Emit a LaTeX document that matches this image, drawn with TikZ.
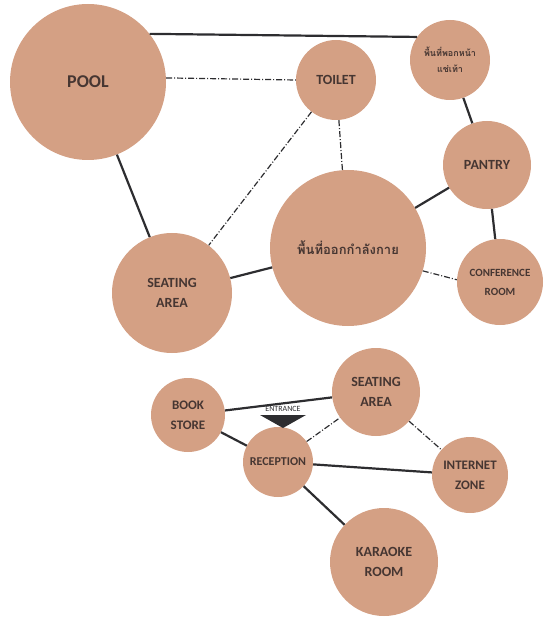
\documentclass[tikz,border=0pt]{standalone}
\usepackage{fontspec}
\setmainfont{Carlito}
\newfontfamily\thaifont[Script=Thai]{Loma}
\definecolor{roomfill}{RGB}{212,160,132}
\definecolor{roomtext}{RGB}{70,54,50}
\definecolor{linkcol}{RGB}{45,45,48}
\tikzset{
  room/.style={circle, fill=roomfill, inner sep=0pt, text=roomtext,
    font=\bfseries, align=center},
  strong/.style={draw=linkcol, line width=2.2pt},
  weak/.style={draw=linkcol, line width=1.2pt,
    dash pattern=on 6pt off 2pt on 1pt off 2pt}
}
\begin{document}
\begin{tikzpicture}[x=1pt,y=-1pt]
\useasboundingbox (0,0) rectangle (547,617);
% upper zone
\node[room, minimum size=156pt, font=\bfseries\fontsize{18}{20}\selectfont] (pool) at (88,82) {POOL};
\node[room, minimum size=80pt, font=\bfseries\fontsize{14}{16}\selectfont] (toilet) at (336,80) {TOILET};
\node[room, minimum size=80pt, font=\thaifont\bfseries\fontsize{9}{16}\selectfont] (spa) at (450,60) {พื้นที่พอกหน้า\\แช่เท้า};
\node[room, minimum size=88pt, font=\bfseries\fontsize{14}{16}\selectfont] (pantry) at (487,165) {PANTRY};
\node[room, minimum size=86pt, font=\bfseries\fontsize{11}{19}\selectfont] (conf) at (500,282) {CONFERENCE\\ROOM};
\node[room, minimum size=156pt, font=\thaifont\bfseries\fontsize{13}{18}\selectfont] (gym) at (348,248) {พื้นที่ออกกำลังกาย};
\node[room, minimum size=120pt, font=\bfseries\fontsize{14}{20}\selectfont] (seatA) at (172,293) {SEATING\\AREA};
% lower zone
\node[room, minimum size=88pt, font=\bfseries\fontsize{14}{20}\selectfont] (seatB) at (376,392) {SEATING\\AREA};
\node[room, minimum size=74pt, font=\bfseries\fontsize{13}{20}\selectfont] (book) at (188,415) {BOOK\\STORE};
\node[room, minimum size=70pt, font=\bfseries\fontsize{12}{14}\selectfont] (recep) at (278,462) {RECEPTION};
\node[room, minimum size=76pt, font=\bfseries\fontsize{13}{20}\selectfont] (net) at (470,475) {INTERNET\\ZONE};
\node[room, minimum size=108pt, font=\bfseries\fontsize{14}{20}\selectfont] (kara) at (384,562) {KARAOKE\\ROOM};
% entrance marker
\node[text=linkcol, font=\fontsize{8}{9}\selectfont, inner sep=0pt] (entr) at (283,409) {ENTRANCE};
\fill[linkcol] (260,415) -- (306,415) -- (283,428) -- cycle;
% upper links
\draw[strong] (pool.38) -- (spa.145);
\draw[weak] (pool.3) -- (toilet.180);
\draw[strong] (pool) -- (seatA);
\draw[weak] (toilet) -- (seatA);
\draw[weak] (toilet) -- (gym);
\draw[strong] (spa) -- (pantry);
\draw[strong] (pantry) -- (gym);
\draw[strong] (pantry) -- (conf);
\draw[weak] (gym.-17) -- (conf.177);
\draw[strong] (seatA) -- (gym);
% lower links
\draw[strong] (book) -- (seatB);
\draw[strong] (book) -- (recep);
\draw[weak] (recep) -- (seatB);
\draw[strong] (recep) -- (net);
\draw[weak] (seatB) -- (net);
\draw[strong] (recep) -- (kara);
\end{tikzpicture}
\end{document}
